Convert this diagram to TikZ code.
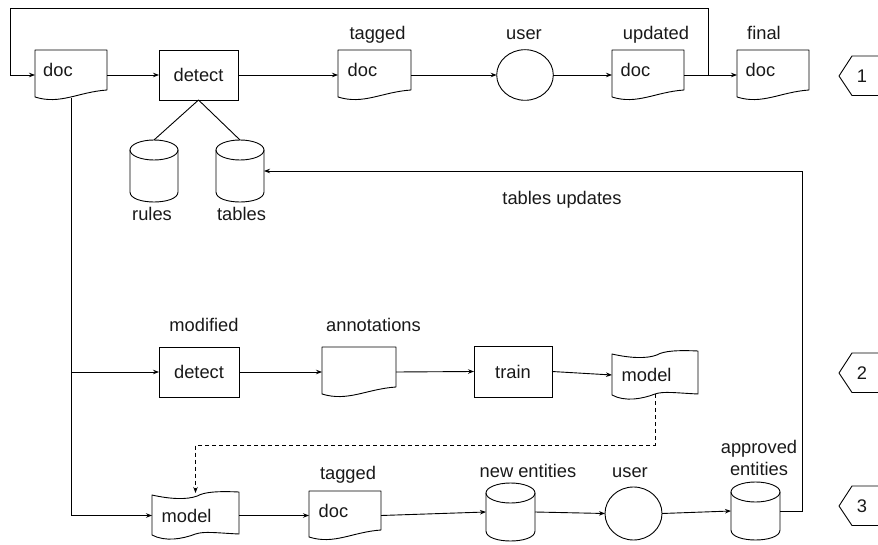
\documentclass[tikz,border=0pt]{standalone}
\usepackage{fontspec}
\setmainfont{Liberation Sans}
\usetikzlibrary{arrows.meta,shapes.geometric,calc}

% document shape: name, x, y, w, h  (pixel units, y down)
\newcommand\mydocshape[5]{%
  \draw[shp] (#2,#3) -- ({#2+#4},#3) -- ({#2+#4},{#3+#5-10})
    .. controls ({#2+0.6*#4},{#3+#5-8}) and ({#2+0.35*#4},{#3+#5+5}) .. (#2,{#3+#5-3}) -- cycle;
  \node[area, minimum width=#4pt, minimum height=#5pt] (#1) at ({#2+#4/2},{#3+#5/2}) {};
}
% tape shape
\newcommand\mytapeshape[5]{%
  \draw[shp] (#2,{#3+4})
    .. controls ({#2+0.2*#4},{#3+8}) and ({#2+0.4*#4},{#3+9}) .. ({#2+0.52*#4},{#3+5})
    .. controls ({#2+0.6*#4},{#3+1}) and ({#2+0.75*#4},{#3}) .. ({#2+#4},{#3+1})
    -- ({#2+#4},{#3+#5-6})
    .. controls ({#2+0.75*#4},{#3+#5-7}) and ({#2+0.6*#4},{#3+#5-9}) .. ({#2+0.5*#4},{#3+#5-6})
    .. controls ({#2+0.35*#4},{#3+#5-1}) and ({#2+0.15*#4},{#3+#5+2}) .. (#2,{#3+#5-5})
    -- cycle;
  \node[area, minimum width=#4pt, minimum height=#5pt] (#1) at ({#2+#4/2},{#3+#5/2}) {};
}
% cylinder
\newcommand\mycylshape[5]{%
  \pgfmathsetmacro\cylrx{#4/2}%
  \draw[shp] (#2,{#3+10}) -- (#2,{#3+#5-10})
    .. controls (#2,{#3+#5+3.33}) and ({#2+#4},{#3+#5+3.33}) .. ({#2+#4},{#3+#5-10})
    -- ({#2+#4},{#3+10});
  \draw[shp] ({#2+#4/2},{#3+10}) ellipse [x radius=\cylrx, y radius=10];
  \node[area, minimum width=#4pt, minimum height=#5pt] (#1) at ({#2+#4/2},{#3+#5/2}) {};
}
% step marker
\newcommand\mystepshape[3]{%
  \draw[shp] (878,{#2-20}) -- (852,{#2-20}) -- (839,#2) -- (852,{#2+19.5}) -- (878,{#2+19.5});
  \node[txt] (#1) at (862,{#2+0.5}) {#3};
}

\begin{document}
\begin{tikzpicture}[x=1pt,y=-1pt,
  shp/.style={draw=black, line width=0.9pt, line join=round},
  conn/.style={draw=black, line width=0.9pt},
  arr/.style={conn, -{Stealth[length=6pt,width=4.5pt]}},
  dsh/.style={dash pattern=on 4pt off 3pt},
  txt/.style={font=\fontsize{18.3}{22}\selectfont, text=black!90, inner sep=0pt},
  area/.style={rectangle, inner sep=0pt, outer sep=0pt, draw=none},
  boxn/.style={rectangle, draw=black, line width=0.9pt, inner sep=0pt, outer sep=0pt,
               font=\fontsize{18.3}{22}\selectfont, text=black!90},
  usern/.style={ellipse, draw=black, line width=0.9pt, inner sep=0pt, outer sep=0pt},
]
\useasboundingbox (0,0) rectangle (878,545);

% ---------- row 1 ----------
\mydocshape{doc1}{35}{50}{72}{50}
\node[txt, anchor=base west] (doc1t) at (43,77) {doc};
\node[boxn, minimum width=79pt, minimum height=50pt] (detect1) at (198.5,75) {detect};
\mydocshape{tag1}{338}{50}{73}{50}
\node[txt, anchor=base west] (tag1t) at (347.5,77) {doc};
\node[txt, anchor=base] (tag1l) at (377.5,40) {tagged};
\node[usern, minimum width=56.6pt, minimum height=50.6pt] (user1) at (525,75) {};
\node[txt, anchor=base] (user1l) at (524,40) {user};
\mydocshape{upd}{612}{50}{72}{50}
\node[txt, anchor=base west] (updt) at (620.5,77) {doc};
\node[txt, anchor=base] (updl) at (656,40) {updated};
\mydocshape{fin}{737}{50}{72}{50}
\node[txt, anchor=base west] (fint) at (745.5,77) {doc};
\node[txt, anchor=base] (finl) at (764,40) {final};

\mycylshape{rules}{130}{140}{48}{62}
\node[txt, anchor=base] (rulesl) at (152,220.5) {rules};
\mycylshape{tables}{216}{140}{48}{62}
\node[txt, anchor=base] (tablesl) at (241.5,220.5) {tables};
\node[txt, anchor=base] (tupd) at (562,205) {tables updates};

% ---------- row 2 ----------
\node[boxn, minimum width=80pt, minimum height=50pt] (detect2) at (199,372) {detect};
\node[txt, anchor=base] (modl) at (204,331) {modified};
\mydocshape{annot}{322}{347}{74}{50}
\node[txt, anchor=base] (annotl) at (373.5,331) {annotations};
\node[boxn, minimum width=78pt, minimum height=51pt] (train) at (513,371.5) {train};
\mytapeshape{model2}{612}{350}{86}{50}
\node[txt, anchor=base west] (model2t) at (621.5,381) {model};

% ---------- row 3 ----------
\mytapeshape{model3}{152}{491}{87}{49}
\node[txt, anchor=base west] (model3t) at (161.5,522) {model};
\mydocshape{doc3}{309}{491}{72}{49}
\node[txt, anchor=base west] (doc3t) at (318.5,517) {doc};
\node[txt, anchor=base] (doc3l) at (348,479) {tagged};
\mycylshape{newent}{486}{483}{49}{58}
\node[txt, anchor=base] (newentl) at (528,477) {new entities};
\node[usern, minimum width=57pt, minimum height=53pt] (user2) at (633.5,513.5) {};
\node[txt, anchor=base] (user2l) at (630,477) {user};
\mycylshape{appr}{731}{482}{49}{58}
\node[txt, anchor=base] (apprl1) at (759,453) {approved};
\node[txt, anchor=base] (apprl2) at (759,475) {entities};

% ---------- step markers ----------
\mystepshape{s1}{76}{1}
\mystepshape{s2}{373}{2}
\mystepshape{s3}{506}{3}

% ---------- connectors ----------
\coordinate (loopstart) at (708,75);
\coordinate (tr) at (708,8);
\coordinate (tl) at (10,8);
\coordinate (doc1bot) at (71,98);
\coordinate (m2bot) at (655,394);
\coordinate (dcorner) at (655,445);
\coordinate (m3top) at (195.5,493);
\coordinate (fbk) at (802,511);

\draw[arr] (doc1.east) -- (detect1.west);
\draw[arr] (detect1.east) -- (tag1.west);
\draw[arr] (tag1.east) -- (user1.west);
\draw[arr] (user1.east) -- (upd.west);
\draw[arr] (upd.east) -- (fin.west);
\draw[arr] (loopstart) -- (tr) -- (tl) |- (doc1.west);
\draw[conn] (detect1.south) -- (rules.north);
\draw[conn] (detect1.south) -- (tables.north);

\draw[arr] (doc1bot) |- (detect2.west);
\draw[arr] (doc1bot) |- (model3.west);
\draw[arr] (detect2.east) -- (annot.west);
\draw[arr] (annot.east) -- (train.west);
\draw[arr] (train.east) -- (model2.west);
\draw[arr, dsh] (m2bot) -- (dcorner) -| (m3top);

\draw[arr] (model3.east) -- (doc3.west);
\draw[arr] (doc3.east) -- (newent.west);
\draw[arr] (newent.east) -- (user2.west);
\draw[arr] (user2.east) -- (appr.west);
\draw[arr] (appr.east) -- (fbk) |- (tables.east);
\end{tikzpicture}
\end{document}
